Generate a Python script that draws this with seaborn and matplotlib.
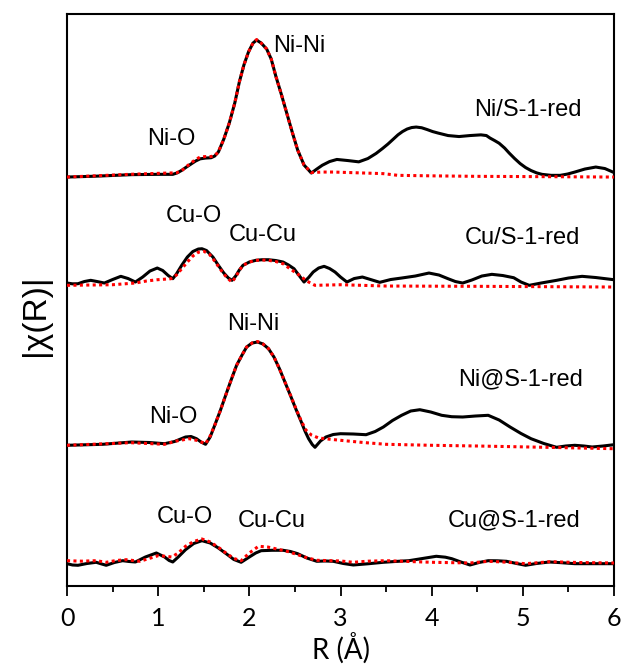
import numpy as np
import pandas as pd
import seaborn as sns
import matplotlib.pyplot as plt
from matplotlib.ticker import MultipleLocator

# |chi(R)|, relative to each curve's own baseline
ni_s1_r = [0, 0.3, 0.71, 1.0, 1.16, 1.21, 1.26, 1.31, 1.36, 1.41, 1.46, 1.52, 1.58, 1.62, 1.66, 1.72,
           1.78, 1.84, 1.89, 1.94, 1.99, 2.04, 2.08, 2.13, 2.19, 2.24, 2.29, 2.35, 2.41, 2.47, 2.53,
           2.60, 2.68, 2.74, 2.80, 2.88, 2.96, 3.08, 3.20, 3.30, 3.39, 3.46, 3.52, 3.58, 3.63, 3.68,
           3.73, 3.78, 3.83, 3.89, 3.95, 4.01, 4.07, 4.18, 4.30, 4.42, 4.54, 4.60, 4.64, 4.69, 4.74,
           4.80, 4.85, 4.91, 4.97, 5.03, 5.09, 5.15, 5.21, 5.31, 5.41, 5.49, 5.57, 5.68, 5.80, 5.90, 6.0]
ni_s1_exp = [0, 0.8, 2.4, 2.7, 2.7, 4.2, 6.8, 10, 13, 16, 18.2, 19, 19.3, 21, 25, 38,
             54, 74, 95, 112, 125, 134, 137, 134, 128, 118, 101, 83, 64, 45, 27,
             12, 4, 8, 11.8, 15.5, 17.6, 16.5, 15.2, 18.5, 23.6, 28.5, 33, 38, 42.2, 45.5,
             48, 49.5, 50, 49.3, 47.5, 45.5, 44, 41.5, 40.5, 41.5, 42.2, 41.5, 39, 36.5, 33.8,
             29, 24, 18.5, 13.5, 9.5, 6.5, 4.2, 2.7, 1.7, 1.7, 3, 5, 8, 10, 8.5, 4.5]
ni_s1_fit_r = [0, 0.71, 1.1, 1.2, 1.26, 1.31, 1.36, 1.41, 1.46, 1.52, 1.58, 1.62, 1.66, 1.72, 1.78,
               1.84, 1.89, 1.94, 1.99, 2.04, 2.08, 2.13, 2.19, 2.24, 2.29, 2.35, 2.41, 2.47, 2.53,
               2.60, 2.68, 2.80, 2.92, 3.2, 3.47, 3.63, 4.0, 4.5, 5.2, 6.0]
ni_s1_fit = [0, 2.8, 4, 4.2, 6.5, 10.5, 14, 17.5, 20, 20.5, 20.5, 21.5, 25, 38, 54,
             74, 95, 112, 125, 134, 137.5, 134, 128, 118, 101, 83, 64, 45, 27,
             12, 4.5, 5, 5, 4.2, 3.4, 1.7, 1.2, 0.7, 0.4, 0]

cu_s1_r = [0, 0.06, 0.12, 0.19, 0.26, 0.33, 0.41, 0.50, 0.59, 0.67, 0.75, 0.83, 0.91, 0.99, 1.05,
           1.11, 1.16, 1.20, 1.26, 1.32, 1.38, 1.44, 1.48, 1.53, 1.60, 1.66, 1.72, 1.77, 1.81, 1.85,
           1.89, 1.93, 2.00, 2.07, 2.14, 2.21, 2.29, 2.37, 2.43, 2.49, 2.55, 2.60, 2.65, 2.70, 2.76,
           2.82, 2.88, 2.94, 3.00, 3.07, 3.15, 3.24, 3.33, 3.43, 3.55, 3.67, 3.82, 3.97, 4.08, 4.18,
           4.26, 4.34, 4.44, 4.55, 4.66, 4.78, 4.90, 4.98, 5.07, 5.20, 5.37, 5.50, 5.65, 5.80, 6.0]
cu_s1_exp = [4, 3.2, 3.3, 5.5, 6.7, 5.5, 4, 7.5, 10.7, 8.5, 5, 10, 16, 19, 16.5,
             11.5, 8.3, 13, 22, 30, 35.5, 38, 38.3, 36.5, 30, 21.7, 14, 9, 6.7, 11,
             17, 21.7, 25, 26.7, 27.3, 27.3, 26.5, 25, 22, 18.3, 11, 5, 9.5, 15, 19,
             20.7, 18.5, 15, 10, 5, 8.5, 10, 7.5, 4.7, 7.5, 9, 11, 14, 12, 8.3,
             5.5, 4, 7, 11, 12.7, 11.5, 9.3, 5, 1.7, 4, 6.7, 9, 10.7, 9.5, 7.3]
cu_s1_fit_r = [0, 0.5, 0.75, 0.87, 0.99, 1.14, 1.20, 1.26, 1.32, 1.38, 1.44, 1.50, 1.56, 1.62, 1.66,
               1.72, 1.77, 1.81, 1.85, 1.89, 1.93, 2.00, 2.07, 2.14, 2.21, 2.29, 2.37, 2.45, 2.55,
               2.63, 2.72, 3.0, 3.5, 4.5, 6.0]
cu_s1_fit = [1.7, 2.3, 4, 6, 7.3, 8.3, 12, 18.5, 25, 31, 34.8, 35.7, 33, 26, 20.7,
             13, 8, 5, 10, 16.5, 21.7, 25, 26.7, 27, 26.7, 25.5, 23.3, 18, 11.7,
             6, 1.7, 2.3, 1, 0.7, 0]

ni_at_r = [0, 0.39, 0.71, 0.9, 1.07, 1.18, 1.30, 1.36, 1.42, 1.47, 1.52, 1.57, 1.62, 1.68, 1.74,
           1.80, 1.86, 1.92, 1.97, 2.03, 2.09, 2.15, 2.21, 2.27, 2.33, 2.39, 2.45, 2.51, 2.57,
           2.61, 2.65, 2.69, 2.72, 2.78, 2.84, 2.92, 3.00, 3.14, 3.28, 3.38, 3.47, 3.57, 3.67,
           3.77, 3.87, 3.99, 4.11, 4.22, 4.34, 4.48, 4.62, 4.74, 4.86, 4.98, 5.09, 5.23, 5.37,
           5.47, 5.57, 5.67, 5.76, 5.88, 6.0]
ni_at_exp = [0.7, 1.7, 4, 3.5, 2.3, 4.5, 9, 9.5, 7.3, 4, 1.7, 9, 20.7, 35, 50.7,
             66, 80.7, 91, 99, 103, 104, 102, 97.3, 89, 77.3, 64, 50.7, 37, 24,
             15, 7.3, 1.5, -1.3, 5, 9, 11.5, 12.3, 12, 11.3, 14.5, 19, 25.5, 30.7,
             35, 36.3, 34, 30.7, 29.3, 29, 30, 30.7, 26, 19, 12.5, 7.3, 2.5, -1.3,
             0, 0.7, 0, -1, 0, 1.3]
ni_at_fit_r = [0, 0.7, 1.07, 1.2, 1.34, 1.43, 1.52, 1.57, 1.62, 1.68, 1.74, 1.80, 1.86, 1.92, 1.97,
               2.03, 2.09, 2.15, 2.21, 2.27, 2.33, 2.39, 2.45, 2.51, 2.57, 2.62, 2.68, 2.76, 2.88,
               3.0, 3.25, 3.5, 4.0, 4.5, 5.25, 6.0]
ni_at_fit = [0.7, 3.3, 1.7, 5, 7.3, 5.5, 2.3, 10, 20.7, 35, 50.7, 66, 80.7, 91, 99,
             103, 104.5, 102, 97.3, 89, 77.3, 64, 51, 37.5, 25, 16, 11, 8, 6.8,
             5.7, 3.5, 1.7, 0.7, 0, -1.3, -2.7]

cu_at_r = [0, 0.06, 0.12, 0.22, 0.32, 0.38, 0.43, 0.52, 0.61, 0.68, 0.75, 0.86, 0.98, 1.07, 1.12,
           1.16, 1.22, 1.30, 1.39, 1.48, 1.57, 1.66, 1.75, 1.83, 1.91, 2.0, 2.07, 2.13, 2.25, 2.37,
           2.45, 2.53, 2.63, 2.74, 2.83, 2.92, 3.03, 3.14, 3.30, 3.47, 3.60, 3.75, 3.90, 4.05, 4.15,
           4.22, 4.32, 4.42, 4.52, 4.62, 4.72, 4.82, 4.93, 5.03, 5.15, 5.29, 5.42, 5.57, 6.0]
cu_at_exp = [-0.7, -2, -2.3, -0.5, 0.7, -1, -2.3, 0.5, 2.3, 1.5, 1, 6, 10, 6, 2.5,
             1, 6, 13.3, 19.5, 22.3, 20, 15, 9, 3.5, 0.7, 6, 10, 12.3, 12.7, 12.7,
             11.5, 9.3, 5, 1.7, 2, 1.7, -0.5, -2, -0.8, 0.7, 1.5, 2.3, 4.5, 6.7, 5.8,
             4.3, 1, -2, 0.5, 2.3, 2.2, 1.7, -0.5, -2.3, -0.5, 1, 0.3, -0.7, -0.7]
cu_at_fit_r = [0, 0.16, 0.32, 0.43, 0.54, 0.65, 0.8, 0.9, 1.0, 1.07, 1.15, 1.22, 1.3, 1.39, 1.48,
               1.57, 1.66, 1.75, 1.83, 1.91, 2.0, 2.1, 2.2, 2.3, 2.42, 2.53, 2.64, 2.74, 3.0, 3.14,
               3.3, 3.5, 3.75, 4.0, 4.42, 4.62, 4.82, 5.03, 5.3, 5.6, 6.0]
cu_at_fit = [2.3, 1.8, 2.3, 0.7, 2.5, 3.3, 1.7, 4.5, 7.3, 6.8, 6, 10, 16.7, 21.5, 24,
             21, 15.7, 9.5, 4.5, 2.3, 10, 16.7, 16, 14, 11.5, 8.3, 5, 2.7, 2, 0.7,
             1.8, 2.3, 1.5, 0.7, 0, 1.7, 0.8, -0.7, 1.3, 0.5, 0]

samples = ["Ni/S-1-red", "Cu/S-1-red", "Ni@S-1-red", "Cu@S-1-red"]
offsets = [409, 299, 140, 23]
exp_r = [ni_s1_r, cu_s1_r, ni_at_r, cu_at_r]
exp_y = [ni_s1_exp, cu_s1_exp, ni_at_exp, cu_at_exp]
fit_r = [ni_s1_fit_r, cu_s1_fit_r, ni_at_fit_r, cu_at_fit_r]
fit_y = [ni_s1_fit, cu_s1_fit, ni_at_fit, cu_at_fit]

# peak labels: (text, R, height)
peak_labels = [("Ni-Ni", 2.55, 540), ("Ni-O", 1.14, 447),
               ("Cu-O", 1.39, 370), ("Cu-Cu", 2.15, 351),
               ("Ni-Ni", 2.04, 262), ("Ni-O", 1.17, 169),
               ("Cu-O", 1.29, 69), ("Cu-Cu", 2.25, 65)]
sample_pos = [(5.05, 476), (5.0, 348), (4.97, 207), (4.9, 66)]

sns.set_style("ticks")
plt.rcParams['font.family'] = ['Lato', 'DejaVu Sans']
plt.rcParams['text.color'] = 'black'
plt.rcParams['axes.labelcolor'] = 'black'
plt.rcParams['xtick.color'] = 'black'
plt.rcParams['axes.edgecolor'] = 'black'
plt.rcParams['lines.dotted_pattern'] = [1, 1.1]

fig = plt.figure(figsize=(6.24, 6.70), dpi=100)
ax = fig.add_axes([0.1074, 0.1254, 0.8766, 0.8536])

for i in range(4):
    d_exp = pd.DataFrame({"R": exp_r[i], "chi": np.array(exp_y[i]) + offsets[i]})
    d_fit = pd.DataFrame({"R": fit_r[i], "chi": np.array(fit_y[i]) + offsets[i]})
    sns.lineplot(data=d_exp, x="R", y="chi", color="black", linewidth=2.2, ax=ax, zorder=2)
    sns.lineplot(data=d_fit, x="R", y="chi", color="red", linewidth=2.2, linestyle=":", ax=ax, zorder=3)

for txt, r, h in peak_labels:
    ax.text(r, h, txt, ha="center", va="center", fontsize=17, family=["Liberation Sans"])
for s, (r, h) in zip(samples, sample_pos):
    ax.text(r, h, s, ha="center", va="center", fontsize=17, family=["Liberation Sans"])

ax.set_xlim(0, 6)
ax.set_ylim(0, 572)
ax.set_yticks([])
ax.xaxis.set_major_locator(MultipleLocator(1))
ax.xaxis.set_minor_locator(MultipleLocator(0.5))
ax.tick_params(axis="x", which="major", direction="out", length=7, width=1.3, labelsize=18, pad=8)
ax.tick_params(axis="x", which="minor", direction="out", length=4, width=1.3)
for sp in ax.spines.values():
    sp.set_visible(True)
    sp.set_linewidth(1.5)
ax.set_xlabel("R (Å)", fontsize=20, labelpad=2)
ax.set_ylabel("|χ(R)|", fontsize=24, family=["Liberation Sans"])
ax.yaxis.set_label_coords(-0.03, 0.474)

fig.savefig("out.png", dpi=100)
